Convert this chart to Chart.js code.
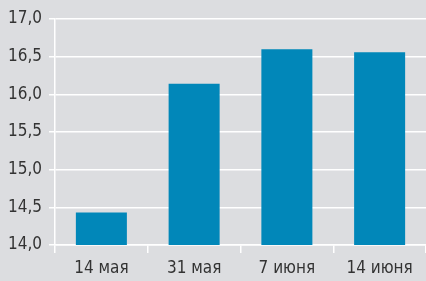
<!DOCTYPE html>
<html>
<head>
<meta charset="utf-8">
<script src="https://cdn.jsdelivr.net/npm/chart.js@4"></script>
<style>
    html, body { margin: 0; padding: 0; background: #dcdde0; }
    #wrap { width: 426px; height: 281px; }
</style>
</head>
<body>
<div id="wrap"><canvas id="chart"></canvas></div>
<script>
// Data
const categories = ['14 мая', '31 мая', '7 июня', '14 июня'];
const values = [14.43, 16.14, 16.60, 16.56];
const yMin = 14.0;
const yMax = 17.0;
const yStep = 0.5;

const fontFamily = "'Liberation Sans Narrow', 'DejaVu Sans Condensed', 'Roboto', sans-serif";

// Gray backdrop behind the whole canvas
const bgPlugin = {
    id: 'bg',
    beforeDraw(chart) {
        const ctx = chart.ctx;
        ctx.save();
        ctx.fillStyle = '#dcdde0';
        ctx.fillRect(0, 0, chart.width, chart.height);
        ctx.restore();
    }
};

const ctx = document.getElementById('chart').getContext('2d');
new Chart(ctx, {
    type: 'bar',
    data: {
        labels: categories,
        datasets: [{
            data: values,
            backgroundColor: '#0187b9',
            borderWidth: 0,
            categoryPercentage: 1,
            barPercentage: 0.55
        }]
    },
    options: {
        responsive: true,
        maintainAspectRatio: false,
        animation: false,
        layout: { padding: { top: 19, right: 0, left: 0, bottom: 0 } },
        plugins: {
            legend: { display: false },
            tooltip: { enabled: false }
        },
        scales: {
            x: {
                grid: {
                    offset: true,
                    drawOnChartArea: false,
                    drawTicks: true,
                    tickLength: 8,
                    color: '#ffffff',
                    lineWidth: 1.5
                },
                border: { display: true, color: '#ffffff', width: 1.5 },
                ticks: {
                    color: '#333333',
                    padding: 5,
                    font: { family: fontFamily, size: 17 }
                },
                afterFit: scale => { scale.height = 36; }
            },
            y: {
                min: yMin,
                max: yMax,
                grid: {
                    color: '#ffffff',
                    lineWidth: 1.5,
                    tickLength: 6
                },
                border: { display: true, color: '#ffffff', width: 1.5 },
                ticks: {
                    stepSize: yStep,
                    color: '#333333',
                    padding: 7,
                    font: { family: fontFamily, size: 17 },
                    callback: v => v.toFixed(1).replace('.', ',')
                },
                afterFit: scale => { scale.width = 55; }
            }
        }
    },
    plugins: [bgPlugin]
});
</script>
</body>
</html>
